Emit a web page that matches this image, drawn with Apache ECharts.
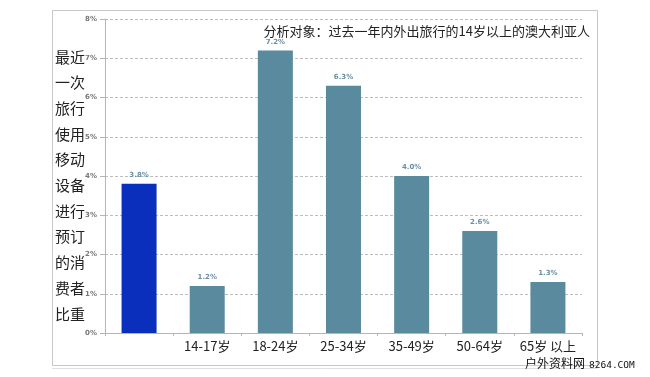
<!DOCTYPE html>
<html>
<head>
<meta charset="utf-8">
<script src="https://cdn.jsdelivr.net/npm/echarts@6/dist/echarts.min.js"></script>
<style>
  html, body { margin: 0; padding: 0; background: #fff; }
  #chart { width: 650px; height: 377px; }
</style>
</head>
<body>
<div id="chart"></div>
<script>
// 年龄段（第一个为总体，不显示标签）
const categories = ['', '14-17岁', '18-24岁', '25-34岁', '35-49岁', '50-64岁', '65岁 以上'];
const shares = [3.8, 1.2, 7.2, 6.3, 4.0, 2.6, 1.3];
const yTitleLines = ['最近', '一次', '旅行', '使用', '移动', '设备', '进行', '预订', '的消', '费者', '比重'];

const TOTAL_COLOR = '#0a2fbd';
const BAR_COLOR = '#5a8a9e';

const chart = echarts.init(document.getElementById('chart'));

const option = {
  animation: false,
  title: {
    text: '分析对象：过去一年内外出旅行的14岁以上的澳大利亚人',
    right: 55,
    top: 20,
    textStyle: {
      fontFamily: 'Noto Sans CJK SC',
      fontSize: 13,
      fontWeight: 'normal',
      color: '#222'
    }
  },
  grid: { left: 105, right: 68, top: 19, bottom: 44 },
  xAxis: {
    type: 'category',
    data: categories,
    axisLine: { lineStyle: { color: '#b5b5b5' } },
    axisTick: { show: true, length: 3, lineStyle: { color: '#b5b5b5' } },
    axisLabel: {
      interval: 0,
      color: '#222',
      fontFamily: 'Noto Sans CJK SC',
      fontSize: 13,
      margin: 7
    }
  },
  yAxis: {
    type: 'value',
    min: 0,
    max: 8,
    interval: 1,
    axisLine: { show: true, lineStyle: { color: '#b5b5b5' } },
    axisTick: { show: true, length: 5, lineStyle: { color: '#b5b5b5' } },
    axisLabel: {
      formatter: '{value}%',
      color: '#777',
      fontSize: 7,
      fontWeight: 'bold',
      fontFamily: 'DejaVu Sans',
      margin: 8
    },
    splitLine: { lineStyle: { color: '#bdbdbd', type: [3, 2] } }
  },
  series: [{
    type: 'bar',
    barWidth: 35,
    data: shares.map((v, i) => ({
      value: v,
      itemStyle: { color: i === 0 ? TOTAL_COLOR : BAR_COLOR }
    })),
    label: {
      show: true,
      position: 'top',
      distance: 5,
      formatter: p => p.value.toFixed(1) + '%',
      color: '#6a8fa3',
      fontSize: 7,
      fontWeight: 'bold',
      fontFamily: 'DejaVu Sans'
    }
  }],
  graphic: [
    {
      type: 'rect',
      shape: { x: 52.5, y: 10.5, width: 545, height: 355 },
      style: { fill: null, stroke: '#c8c8c8', lineWidth: 1 },
      z: -1
    },
    {
      type: 'line',
      shape: { x1: 52, y1: 368.5, x2: 597, y2: 368.5 },
      style: { stroke: '#e0e0e0', lineWidth: 1 },
      z: -1
    },
    {
      type: 'text',
      left: 55,
      top: 44,
      style: {
        text: yTitleLines.join('\n'),
        fontFamily: 'Noto Sans CJK SC',
        fontSize: 15,
        lineHeight: 25.7,
        fill: '#222'
      }
    },
    // 水印
    {
      type: 'text',
      x: 525,
      y: 363,
      style: {
        text: '户外资料网',
        fontFamily: 'Noto Sans CJK SC',
        fontSize: 12,
        fill: '#111',
        verticalAlign: 'middle'
      }
    },
    {
      type: 'text',
      x: 589,
      y: 365.5,
      style: {
        text: '8264.COM',
        fontFamily: 'DejaVu Sans Mono',
        fontSize: 9.5,
        fill: '#111',
        verticalAlign: 'middle'
      }
    }
  ]
};

chart.setOption(option);
</script>
</body>
</html>
